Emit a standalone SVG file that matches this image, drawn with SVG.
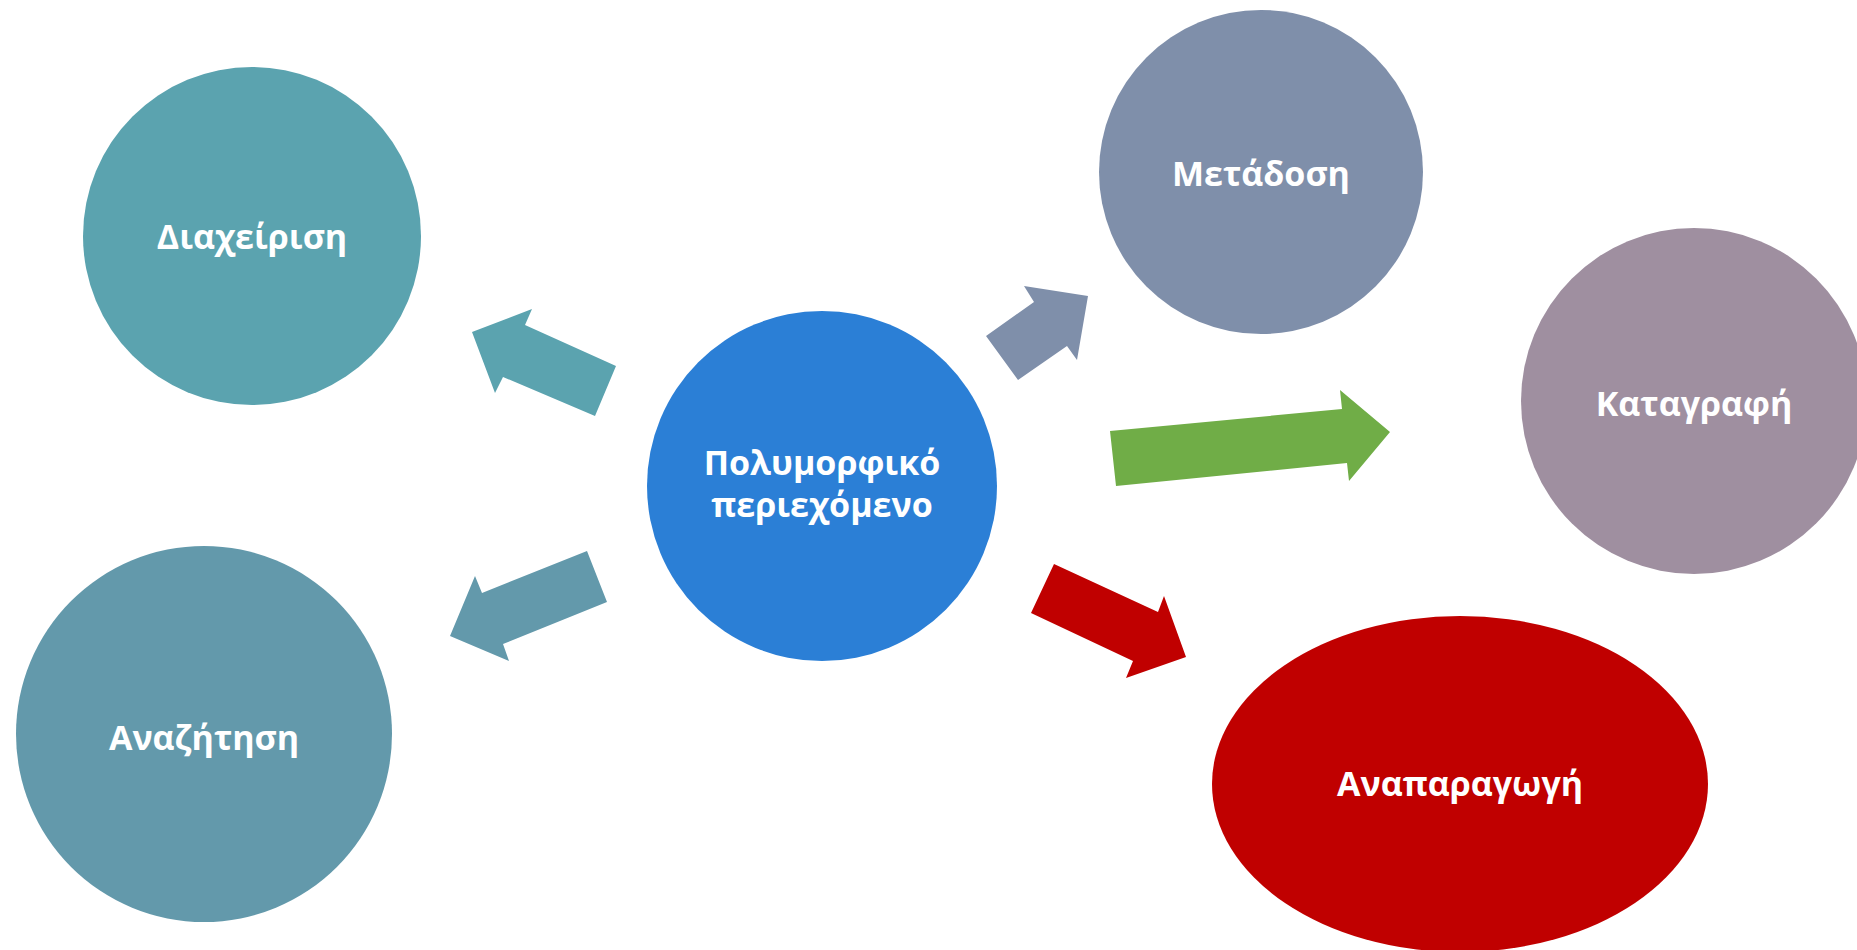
<svg xmlns="http://www.w3.org/2000/svg" width="1857" height="950" viewBox="0 0 1857 950">
<style>
.lbl{font-family:"Open Sans","Noto Sans","DejaVu Sans",sans-serif;font-weight:bold;font-size:34px;fill:#ffffff;text-anchor:middle}
</style>
<rect width="1857" height="950" fill="#ffffff"/>
<g id="connectors">
<polygon points="472,332 532,309 525,325 616,366 595,416 503,377 495,393" fill="#5BA3AF"/>
<polygon points="450,636 475,576 482,593 587,551 607,602 503,644 509,661" fill="#6399AB"/>
<polygon points="986,336 1034,302 1024,286 1088,296 1077,360 1067,346 1018,380" fill="#7F8FAA"/>
<polygon points="1110,431 1342,409 1340,390 1390,432 1349,481 1347,463 1116,486" fill="#70AD47"/>
<polygon points="1054,564 1158,612 1164,596 1186,657 1126,678 1133,661 1031,613" fill="#C00000"/>
</g>
<g id="center">
<circle cx="822" cy="486" r="175" fill="#2B7FD6"/>
<text class="lbl" x="822" y="475">Πολυμορφικό</text>
<text class="lbl" x="822" y="517">περιεχόμενο</text>
</g>
<g id="diaxeirisi">
<circle cx="252" cy="236" r="169" fill="#5BA3AF"/>
<text class="lbl" x="252" y="249">Διαχείριση</text>
</g>
<g id="anazitisi">
<circle cx="204" cy="734" r="188" fill="#6399AB"/>
<text class="lbl" x="204" y="750">Αναζήτηση</text>
</g>
<g id="metadosi">
<circle cx="1261" cy="172" r="162" fill="#7F8FAA"/>
<text class="lbl" x="1261" y="186">Μετάδοση</text>
</g>
<g id="katagrafi">
<circle cx="1694" cy="401" r="173" fill="#9F8FA0"/>
<text class="lbl" x="1694" y="416">Καταγραφή</text>
</g>
<g id="anaparagogi">
<ellipse cx="1460" cy="784" rx="248" ry="168" fill="#C00000"/>
<text class="lbl" x="1460" y="796">Αναπαραγωγή</text>
</g>
</svg>
